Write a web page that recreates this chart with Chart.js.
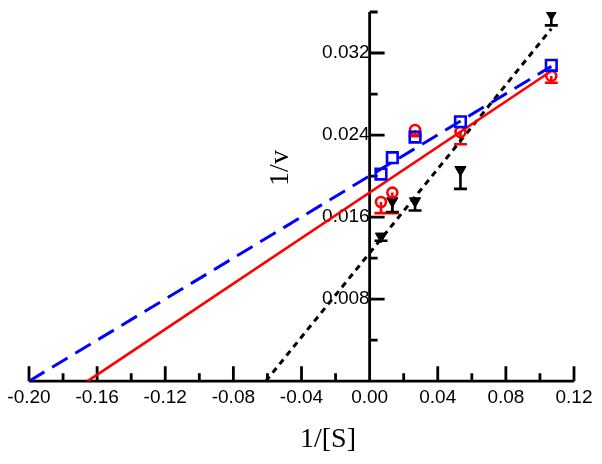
<!DOCTYPE html>
<html>
<head>
<meta charset="utf-8">
<script src="https://cdn.jsdelivr.net/npm/chart.js@4.4.0/dist/chart.umd.min.js"></script>
<style>
  html, body { margin: 0; padding: 0; background: #fff; }
  canvas { display: block; }
</style>
</head>
<body>
<canvas id="lb-plot" width="602" height="464"></canvas>
<script>
// Lineweaver-Burk data
const invS = [0.00667, 0.01333, 0.02667, 0.05333, 0.10667];

const blueV = [0.0202, 0.0218, 0.0238, 0.0253, 0.0308];

const redV = [0.01747, 0.01839, 0.0245, 0.0243, 0.02977];
const redLow = [0.01639, 0.01639, 0.0239, 0.0231, 0.0291];   // lower end of error bar

const blackV = [0.01413, 0.01757, 0.01757, 0.02062, 0.0358];
const blackLow = [0.0137, 0.0165, 0.01664, 0.01875, 0.0347];

// fitted lines (end points)
const blueFitX = [-0.200, 0.1067];
const blueFitY = [0, 0.0307];
const redFitX = [-0.1656, 0.1067];
const redFitY = [0, 0.03025];
const blackFitX = [-0.061, 0.1067];
const blackFitY = [0, 0.03437];

// axis ticks
const xTicks = [-0.20, -0.16, -0.12, -0.08, -0.04, 0.00, 0.04, 0.08, 0.12];
const xMinor = [-0.18, -0.14, -0.10, -0.06, -0.02, 0.02, 0.06, 0.10];
const yTicks = [0.008, 0.016, 0.024, 0.032];
const yMinor = [0.004, 0.012, 0.020, 0.028, 0.036];

const toPts = (xs, ys) => xs.map((x, i) => ({ x: x, y: ys[i] }));

// axes crossing at the origin, ticks pointing inward, plus error bars
const crossAxes = {
  id: 'crossAxes',
  beforeDatasetsDraw(chart) {
    const { ctx, scales: { x, y } } = chart;
    const x0 = x.getPixelForValue(0);
    const y0 = y.getPixelForValue(0);
    ctx.save();
    ctx.strokeStyle = '#000';
    ctx.lineWidth = 2.8;
    ctx.beginPath();
    ctx.moveTo(x.getPixelForValue(-0.20), y0);
    ctx.lineTo(x.getPixelForValue(0.12), y0);
    ctx.moveTo(x0, y0);
    ctx.lineTo(x0, y.getPixelForValue(0.036));
    xTicks.forEach(v => {
      const px = x.getPixelForValue(v);
      ctx.moveTo(px, y0); ctx.lineTo(px, y0 - 15);
    });
    xMinor.forEach(v => {
      const px = x.getPixelForValue(v);
      ctx.moveTo(px, y0); ctx.lineTo(px, y0 - 8);
    });
    yTicks.forEach(v => {
      const py = y.getPixelForValue(v);
      ctx.moveTo(x0, py); ctx.lineTo(x0 + 15, py);
    });
    yMinor.forEach(v => {
      const py = y.getPixelForValue(v);
      ctx.moveTo(x0, py); ctx.lineTo(x0 + 8, py);
    });
    ctx.stroke();

    // lower error bars
    const bars = (vals, lows, color) => {
      ctx.strokeStyle = color;
      ctx.lineWidth = 2.6;
      ctx.beginPath();
      invS.forEach((s, i) => {
        const px = x.getPixelForValue(s);
        const pTop = y.getPixelForValue(vals[i]);
        const pLow = y.getPixelForValue(lows[i]);
        ctx.moveTo(px, pTop); ctx.lineTo(px, pLow);
        ctx.moveTo(px - 6.5, pLow); ctx.lineTo(px + 6.5, pLow);
      });
      ctx.stroke();
    };
    bars(redV, redLow, '#ff0000');
    bars(blackV, blackLow, '#000000');
    ctx.restore();
  },
  afterDraw(chart) {
    const { ctx } = chart;
    ctx.save();
    ctx.fillStyle = '#000';
    ctx.font = '28px "Liberation Serif"';
    ctx.textAlign = 'center';
    ctx.textBaseline = 'middle';
    ctx.fillText('1/[S]', 328, 440);
    ctx.translate(281, 168);
    ctx.rotate(-Math.PI / 2);
    ctx.fillText('1/v', 0, 0);
    ctx.restore();
  }
};

const tickFont = { family: '"Liberation Sans", Arial, sans-serif', size: 19 };

new Chart(document.getElementById('lb-plot'), {
  type: 'scatter',
  data: {
    datasets: [
      {
        label: 'blue',
        data: toPts(invS, blueV),
        pointStyle: 'rect',
        pointRadius: 7.5,
        borderColor: '#0000ff',
        backgroundColor: 'rgba(0,0,0,0)',
        borderWidth: 2.6
      },
      {
        label: 'red',
        data: toPts(invS, redV),
        pointStyle: 'circle',
        pointRadius: 5,
        borderColor: '#ff0000',
        backgroundColor: 'rgba(0,0,0,0)',
        borderWidth: 2.6
      },
      {
        label: 'black',
        data: toPts(invS, blackV),
        pointStyle: 'triangle',
        rotation: 180,
        pointRadius: 6.5,
        borderColor: '#000',
        backgroundColor: '#000',
        borderWidth: 1
      },
      {
        label: 'blue fit',
        data: toPts(blueFitX, blueFitY),
        showLine: true,
        pointRadius: 0,
        borderColor: '#0000ff',
        borderWidth: 3,
        borderDash: [18, 9]
      },
      {
        label: 'red fit',
        data: toPts(redFitX, redFitY),
        showLine: true,
        pointRadius: 0,
        borderColor: '#ff0000',
        borderWidth: 2.6
      },
      {
        label: 'black fit',
        data: toPts(blackFitX, blackFitY),
        showLine: true,
        pointRadius: 0,
        borderColor: '#000',
        borderWidth: 3,
        borderDash: [6, 5]
      }
    ]
  },
  options: {
    responsive: false,
    animation: false,
    layout: { padding: { left: 29, right: 28, top: 12, bottom: 50 } },
    plugins: {
      legend: { display: false },
      tooltip: { enabled: false }
    },
    scales: {
      x: {
        type: 'linear',
        min: -0.20,
        max: 0.12,
        grid: { display: false, drawTicks: false },
        border: { display: false },
        afterBuildTicks: s => { s.ticks = xTicks.map(v => ({ value: v })); },
        ticks: {
          color: '#000',
          font: tickFont,
          padding: 5,
          maxRotation: 0,
          callback: v => v.toFixed(2)
        }
      },
      y: {
        type: 'linear',
        position: { x: 0 },
        min: 0,
        max: 0.036,
        grid: { display: false, drawTicks: false },
        border: { display: false },
        afterBuildTicks: s => { s.ticks = yTicks.map(v => ({ value: v })); },
        afterFit: s => { s.paddingTop = 0; s.paddingBottom = 0; },
        ticks: {
          color: '#000',
          font: tickFont,
          padding: 8,
          callback: v => v.toFixed(3)
        }
      }
    }
  },
  plugins: [crossAxes]
});
</script>
</body>
</html>
